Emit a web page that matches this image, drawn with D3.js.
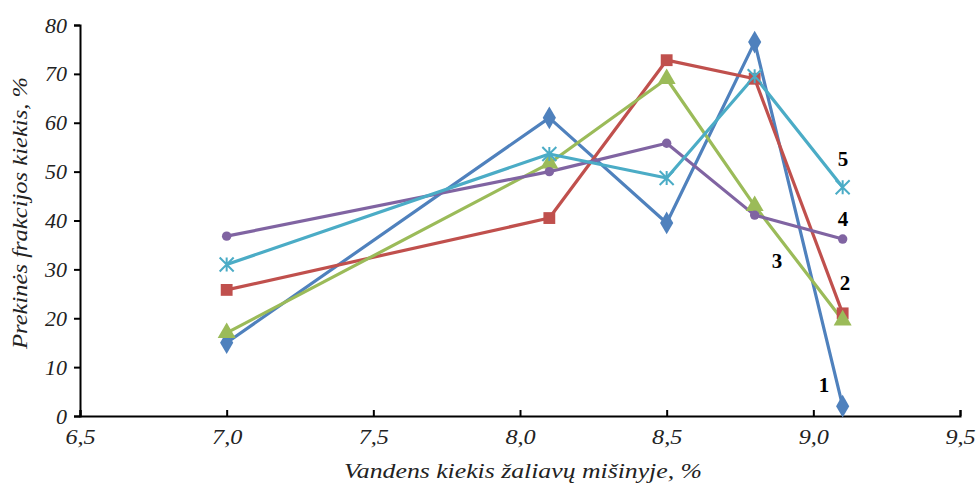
<!DOCTYPE html>
<html><head><meta charset="utf-8">
<script src="https://cdn.jsdelivr.net/npm/d3@7"></script>
<style>body{margin:0;background:#fff}</style>
</head><body><svg id="c" width="977" height="483"></svg>
<script>
const xValues = [7.0, 8.1, 8.5, 8.8, 9.1];
const series1 = [15, 61, 39.5, 76.5, 2];
const series2 = [25.8, 40.5, 72.8, 69, 21];
const series3 = [17, 51.7, 69, 43, 19.6];
const series4 = [36.8, 50, 55.8, 41.1, 36.2];
const series5 = [31, 53.6, 48.7, 69.5, 46.8];
const seriesLabels = ["1", "2", "3", "4", "5"];
const xTicks = [6.5, 7.0, 7.5, 8.0, 8.5, 9.0, 9.5];
const yTicks = [0, 10, 20, 30, 40, 50, 60, 70, 80];
const xTitle = "Vandens kiekis žaliavų mišinyje, %";
const yTitle = "Prekinės frakcijos kiekis, %";

const colors = ["#4F81BD", "#C0504D", "#9BBB59", "#8064A2", "#4BACC6"];
const symbols = [d3.symbolDiamond, d3.symbolSquare, d3.symbolTriangle, d3.symbolCircle, null];
const labelPos = [[824, 392], [845, 290], [777, 268], [843, 226], [843, 166]];

const svg = d3.select("#c");
const x = d3.scaleLinear().domain([6.5, 9.5]).range([80, 960]);
const y = d3.scaleLinear().domain([0, 80]).range([416, 25]);
const font = "'Liberation Serif', 'Times New Roman', serif";

const fmt = d => d.toFixed(1).replace(".", ",");

// axes
const gx = svg.append("g").attr("transform", `translate(0,${y(0)})`)
  .call(d3.axisBottom(x).tickValues(xTicks).tickSize(-6).tickPadding(12).tickFormat(fmt));
gx.select(".domain").attr("stroke", "#000").attr("stroke-width", 2);
gx.selectAll(".tick line").attr("stroke", "#000").attr("stroke-width", 2);
gx.selectAll(".tick text").attr("font-family", font).attr("font-style", "italic")
  .attr("font-size", 22).attr("fill", "#222").attr("dy", "0.71em")
  .attr("transform", "scale(1.1,1)");

const gy = svg.append("g").attr("transform", `translate(${x(6.5)},0)`)
  .call(d3.axisLeft(y).tickValues(yTicks).tickSize(6).tickPadding(7).tickSizeOuter(6));
gy.select(".domain").attr("stroke", "#000").attr("stroke-width", 2);
gy.selectAll(".tick line").attr("stroke", "#000").attr("stroke-width", 2);
gy.selectAll(".tick text").attr("font-family", font).attr("font-style", "italic")
  .attr("font-size", 22).attr("fill", "#222");

// titles
svg.append("text").attr("x", 523).attr("y", 478).attr("text-anchor", "middle")
  .attr("font-family", font).attr("font-style", "italic").attr("font-size", 22).attr("fill", "#222")
  .attr("textLength", 358).attr("lengthAdjust", "spacingAndGlyphs")
  .text(xTitle);
svg.append("text").attr("transform", "translate(27,213) rotate(-90)").attr("text-anchor", "middle")
  .attr("font-family", font).attr("font-style", "italic").attr("font-size", 22).attr("fill", "#222")
  .attr("textLength", 272).attr("lengthAdjust", "spacingAndGlyphs")
  .text(yTitle);

const allSeries = [series1, series2, series3, series4, series5];
const line = d3.line().x((d, i) => x(xValues[i])).y(d => y(d));

allSeries.forEach((s, k) => {
  svg.append("path").datum(s).attr("d", line).attr("fill", "none")
    .attr("stroke", colors[k]).attr("stroke-width", 3.2).attr("stroke-linejoin", "round");
});

allSeries.forEach((s, k) => {
  const g = svg.append("g");
  s.forEach((v, i) => {
    const cx = x(xValues[i]), cy = y(v);
    if (symbols[k]) {
      const size = k === 3 ? 70 : (k === 0 ? 150 : 140);
      g.append("path").attr("d", d3.symbol().type(symbols[k]).size(size)())
        .attr("transform", `translate(${cx},${cy})`).attr("fill", colors[k]);
    } else {
      const r = 7;
      const p = `M${-r},${-r}L${r},${r}M${-r},${r}L${r},${-r}M0,${-r}L0,${r}`;
      g.append("path").attr("d", p).attr("transform", `translate(${cx},${cy})`)
        .attr("stroke", colors[k]).attr("stroke-width", 2).attr("fill", "none");
    }
  });
});

seriesLabels.forEach((t, k) => {
  svg.append("text").attr("x", labelPos[k][0]).attr("y", labelPos[k][1])
    .attr("text-anchor", "middle").attr("font-family", font).attr("font-weight", "bold")
    .attr("font-size", 21).attr("fill", "#000").text(t);
});
</script></body></html>
